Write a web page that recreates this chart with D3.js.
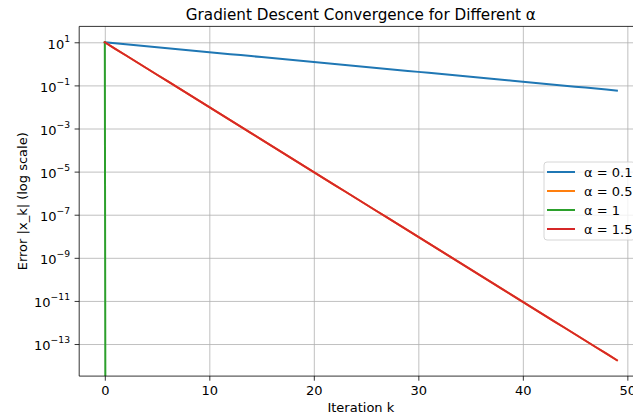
<!DOCTYPE html>
<html>
<head>
  <meta charset="utf-8">
  <title>gradient descent convergence</title>
  <style>
    body { margin: 0; background: #fff; }
    svg text { font-family: "DejaVu Sans", sans-serif; fill: #000; }
  </style>
</head>
<body>
  <div id="chart"></div>
  <script src="https://cdn.jsdelivr.net/npm/d3@7"></script>
  <script type="text/javascript">
    var iterations = [0, 1, 2, 3, 4, 5, 6, 7, 8, 9, 10, 11, 12, 13, 14, 15, 16, 17, 18, 19,
      20, 21, 22, 23, 24, 25, 26, 27, 28, 29, 30, 31, 32, 33, 34, 35, 36, 37, 38, 39,
      40, 41, 42, 43, 44, 45, 46, 47, 48, 49];

    // |x_k|
    var errAlpha01 = [10, 9, 8.1, 7.29, 6.561, 5.905, 5.314, 4.783, 4.305, 3.874,
      3.487, 3.138, 2.824, 2.542, 2.288, 2.059, 1.853, 1.668, 1.501, 1.351,
      1.216, 1.094, 0.985, 0.886, 0.798, 0.718, 0.646, 0.582, 0.523, 0.471,
      0.424, 0.382, 0.343, 0.309, 0.278, 0.250, 0.225, 0.203, 0.182, 0.164,
      0.148, 0.133, 0.120, 0.108, 0.097, 0.087, 0.079, 0.071, 0.064, 0.057];
    var errAlpha05 = [10, 5, 2.5, 1.25, 0.625, 0.3125, 0.15625, 0.078125, 0.0390625, 0.01953,
      9.766e-3, 4.883e-3, 2.441e-3, 1.221e-3, 6.104e-4, 3.052e-4, 1.526e-4, 7.629e-5, 3.815e-5, 1.907e-5,
      9.537e-6, 4.768e-6, 2.384e-6, 1.192e-6, 5.960e-7, 2.980e-7, 1.490e-7, 7.451e-8, 3.725e-8, 1.863e-8,
      9.313e-9, 4.657e-9, 2.328e-9, 1.164e-9, 5.821e-10, 2.910e-10, 1.455e-10, 7.276e-11, 3.638e-11, 1.819e-11,
      9.095e-12, 4.547e-12, 2.274e-12, 1.137e-12, 5.684e-13, 2.842e-13, 1.421e-13, 7.105e-14, 3.553e-14, 1.776e-14];
    var errAlpha1 = [10, 0, 0, 0, 0, 0, 0, 0, 0, 0, 0, 0, 0, 0, 0, 0, 0, 0, 0, 0,
      0, 0, 0, 0, 0, 0, 0, 0, 0, 0, 0, 0, 0, 0, 0, 0, 0, 0, 0, 0,
      0, 0, 0, 0, 0, 0, 0, 0, 0, 0];
    var errAlpha15 = [10, 5, 2.5, 1.25, 0.625, 0.3125, 0.15625, 0.078125, 0.0390625, 0.01953,
      9.766e-3, 4.883e-3, 2.441e-3, 1.221e-3, 6.104e-4, 3.052e-4, 1.526e-4, 7.629e-5, 3.815e-5, 1.907e-5,
      9.537e-6, 4.768e-6, 2.384e-6, 1.192e-6, 5.960e-7, 2.980e-7, 1.490e-7, 7.451e-8, 3.725e-8, 1.863e-8,
      9.313e-9, 4.657e-9, 2.328e-9, 1.164e-9, 5.821e-10, 2.910e-10, 1.455e-10, 7.276e-11, 3.638e-11, 1.819e-11,
      9.095e-12, 4.547e-12, 2.274e-12, 1.137e-12, 5.684e-13, 2.842e-13, 1.421e-13, 7.105e-14, 3.553e-14, 1.776e-14];

    var seriesLabels = ["α = 0.1", "α = 0.5", "α = 1", "α = 1.5"];
    var seriesValues = [errAlpha01, errAlpha05, errAlpha1, errAlpha15];
    var seriesColors = ["#1f77b4", "#ff7f0e", "#2ca02c", "#d62728"];

    var xTicks = [0, 10, 20, 30, 40, 50];
    var yTickExps = [1, -1, -3, -5, -7, -9, -11, -13];

    var w = 633;
    var h = 418;
    var pLeft = 79.2, pRight = 642.5, pTop = 26.4, pBottom = 376.1;

    var svg = d3.select("#chart")
      .append("svg")
      .attr("width", w)
      .attr("height", h);

    var x = d3.scaleLinear().domain([-2.45, 51.45]).range([pLeft, pRight]);
    var y = d3.scaleLog().domain([Math.pow(10, -14.488), Math.pow(10, 1.7375)]).range([pBottom, pTop]);

    svg.append("clipPath").attr("id", "plotclip")
      .append("rect")
      .attr("x", pLeft).attr("y", pTop)
      .attr("width", pRight - pLeft).attr("height", pBottom - pTop);

    // grid
    svg.append("g")
      .attr("transform", "translate(0," + pBottom + ")")
      .call(d3.axisBottom(x).tickValues(xTicks).tickSize(-(pBottom - pTop)).tickFormat(""))
      .call(function(g) {
        g.select(".domain").remove();
        g.selectAll("line").attr("stroke", "#b0b0b0").attr("stroke-width", 0.8);
      });
    svg.append("g")
      .attr("transform", "translate(" + pLeft + ",0)")
      .call(d3.axisLeft(y).tickValues(yTickExps.map(function(e) { return Math.pow(10, e); }))
        .tickSize(-(pRight - pLeft)).tickFormat(""))
      .call(function(g) {
        g.select(".domain").remove();
        g.selectAll("line").attr("stroke", "#b0b0b0").attr("stroke-width", 0.8);
      });

    // lines (non-positive values clipped like matplotlib)
    var line = d3.line()
      .x(function(d, i) { return x(iterations[i]); })
      .y(function(d) { return y(d > 0 ? d : 1e-300); });

    svg.append("g")
      .attr("clip-path", "url(#plotclip)")
      .selectAll("path")
      .data(seriesValues)
      .enter()
      .append("path")
      .attr("d", line)
      .attr("fill", "none")
      .attr("stroke", function(d, i) { return seriesColors[i]; })
      .attr("stroke-width", 2)
      .attr("stroke-linecap", "square");

    // axes
    var xAxis = svg.append("g")
      .attr("transform", "translate(0," + pBottom + ")")
      .call(d3.axisBottom(x).tickValues(xTicks).tickSize(4.6).tickPadding(4.6).tickFormat(d3.format("d")));
    xAxis.select(".domain").remove();
    xAxis.selectAll("line").attr("stroke", "#000").attr("stroke-width", 0.8);
    xAxis.selectAll("text").attr("font-size", 13).attr("font-family", "DejaVu Sans").attr("fill", "#000");

    var yAxis = svg.append("g")
      .attr("transform", "translate(" + pLeft + ",0)")
      .call(d3.axisLeft(y).tickValues(yTickExps.map(function(e) { return Math.pow(10, e); }))
        .tickSize(4.6).tickPadding(4.6).tickFormat(""));
    yAxis.select(".domain").remove();
    yAxis.selectAll("line").attr("stroke", "#000").attr("stroke-width", 0.8);
    yAxis.selectAll(".tick").each(function(d, i) {
      var t = d3.select(this).select("text")
        .attr("font-size", 13).attr("font-family", "DejaVu Sans").attr("fill", "#000")
        .attr("dy", "0.45em");
      t.append("tspan").text("10");
      var e = yTickExps[i];
      t.append("tspan").attr("font-size", 9.2).attr("dy", "-0.75em")
        .text(e < 0 ? "\u2212" + Math.abs(e) : String(e));
    });

    // spines
    svg.append("line").attr("x1", pLeft).attr("x2", pLeft).attr("y1", pTop).attr("y2", pBottom)
      .attr("stroke", "#000").attr("stroke-width", 0.8);
    svg.append("line").attr("x1", pLeft).attr("x2", pRight).attr("y1", pBottom).attr("y2", pBottom)
      .attr("stroke", "#000").attr("stroke-width", 0.8);
    svg.append("line").attr("x1", pLeft).attr("x2", pRight).attr("y1", pTop).attr("y2", pTop)
      .attr("stroke", "#000").attr("stroke-width", 0.8);

    // title and labels
    svg.append("text")
      .attr("x", (pLeft + pRight) / 2).attr("y", 19.5)
      .attr("text-anchor", "middle").attr("font-size", 15.2)
      .text("Gradient Descent Convergence for Different α");
    svg.append("text")
      .attr("x", (pLeft + pRight) / 2).attr("y", 412)
      .attr("text-anchor", "middle").attr("font-size", 13)
      .text("Iteration k");
    svg.append("text")
      .attr("transform", "translate(27," + ((pTop + pBottom) / 2) + ") rotate(-90)")
      .attr("text-anchor", "middle").attr("font-size", 13)
      .text("Error |x_k| (log scale)");

    // legend
    var legend = svg.append("g").attr("transform", "translate(544,162)");
    legend.append("rect")
      .attr("width", 91).attr("height", 78).attr("rx", 3)
      .attr("fill", "#fff").attr("fill-opacity", 0.8)
      .attr("stroke", "#cccccc").attr("stroke-width", 0.8);
    var rows = legend.selectAll("g.row")
      .data(seriesLabels)
      .enter()
      .append("g")
      .attr("class", "row")
      .attr("transform", function(d, i) { return "translate(0," + (10 + i * 19) + ")"; });
    rows.append("line")
      .attr("x1", 3).attr("x2", 31)
      .attr("stroke", function(d, i) { return seriesColors[i]; })
      .attr("stroke-width", 2);
    rows.append("text")
      .attr("x", 40).attr("y", 4.6)
      .attr("font-size", 13)
      .text(function(d) { return d; });
  </script>
</body>
</html>
